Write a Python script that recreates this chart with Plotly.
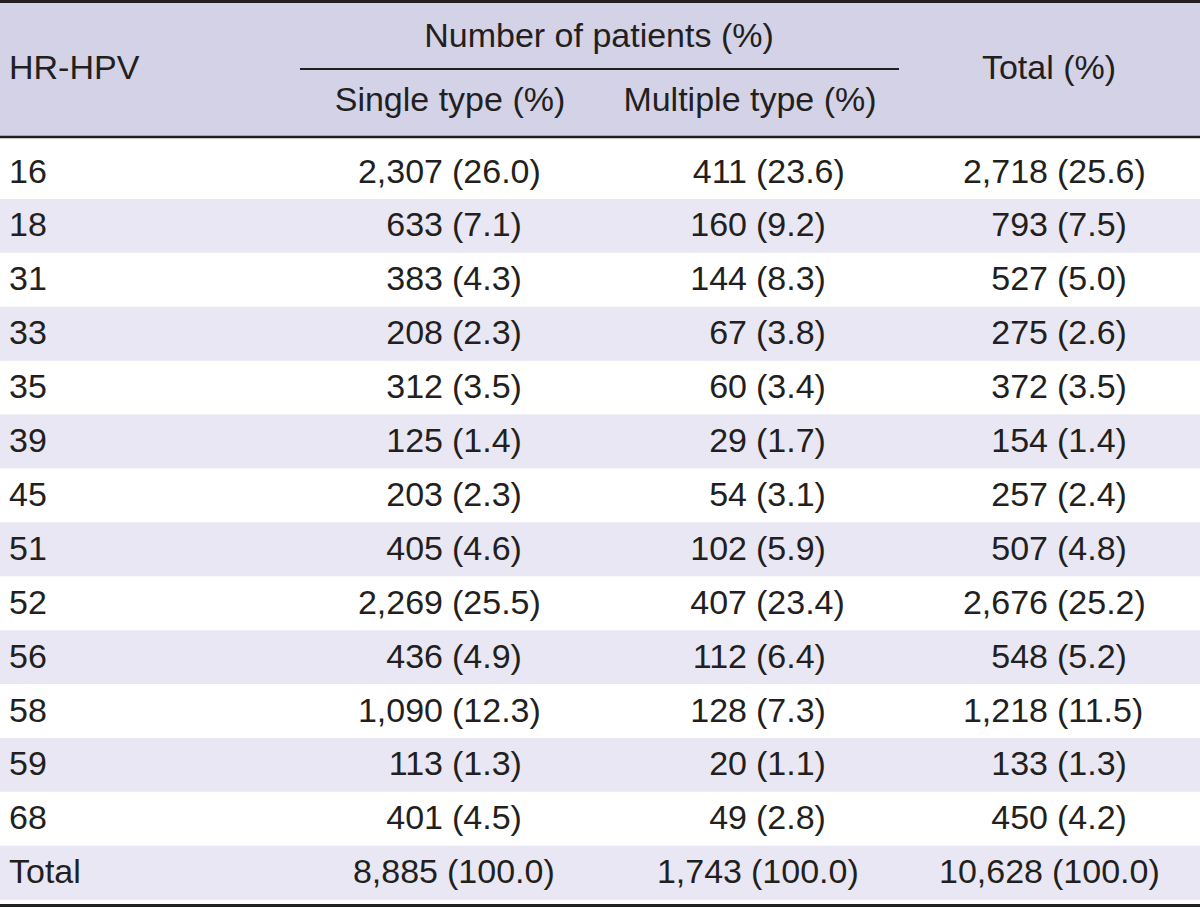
import plotly.graph_objects as go

# ---------------- data ----------------
hpv_types = ["16", "18", "31", "33", "35", "39", "45", "51", "52", "56", "58", "59", "68", "Total"]
single_n = [2307, 633, 383, 208, 312, 125, 203, 405, 2269, 436, 1090, 113, 401, 8885]
single_pct = [26.0, 7.1, 4.3, 2.3, 3.5, 1.4, 2.3, 4.6, 25.5, 4.9, 12.3, 1.3, 4.5, 100.0]
multiple_n = [411, 160, 144, 67, 60, 29, 54, 102, 407, 112, 128, 20, 49, 1743]
multiple_pct = [23.6, 9.2, 8.3, 3.8, 3.4, 1.7, 3.1, 5.9, 23.4, 6.4, 7.3, 1.1, 2.8, 100.0]
total_n = [2718, 793, 527, 275, 372, 154, 257, 507, 2676, 548, 1218, 133, 450, 10628]
total_pct = [25.6, 7.5, 5.0, 2.6, 3.5, 1.4, 2.4, 4.8, 25.2, 5.2, 11.5, 1.3, 4.2, 100.0]

first_col_header = "HR-HPV"
group_header = "Number of patients (%)"
sub_headers = ["Single type (%)", "Multiple type (%)"]
total_header = "Total (%)"

# ---------------- layout constants ----------------
W, H = 1200, 908
FONT = "Liberation Sans, Arial, sans-serif"
FS = 34
TXT = "#231f20"
HEAD_BG = "#d3d2e6"
STRIPE_BG = "#e8e7f3"

row0_y = 172
row_h = 53.9
text_dy = 2
row_y = [row0_y + i * row_h for i in range(len(hpv_types))]
text_y = [y + text_dy for y in row_y]

sep_x = {"single": 452, "multiple": 756, "total": 1057}
gap = 9

fig = go.Figure()

# backgrounds
shapes = []
shapes.append(dict(type="rect", x0=0, x1=W, y0=2, y1=137, fillcolor=HEAD_BG, line_width=0, layer="below"))
for i, y in enumerate(row_y):
    if i % 2 == 1:
        shapes.append(dict(type="rect", x0=0, x1=W, y0=y - row_h / 2, y1=min(y + row_h / 2, 904),
                           fillcolor=STRIPE_BG, line_width=0, layer="below"))
# rules
shapes.append(dict(type="line", x0=0, x1=W, y0=1.5, y1=1.5, line=dict(color="#231f20", width=3)))
shapes.append(dict(type="line", x0=0, x1=W, y0=137, y1=137, line=dict(color="#231f20", width=2.5)))
shapes.append(dict(type="line", x0=300, x1=899, y0=69, y1=69, line=dict(color="#231f20", width=2)))
shapes.append(dict(type="line", x0=0, x1=W, y0=905.5, y1=905.5, line=dict(color="#231f20", width=3)))

font = dict(family=FONT, size=FS, color=TXT)

# first column
fig.add_trace(go.Scatter(x=[9] * len(hpv_types), y=text_y, text=hpv_types, mode="text",
                         textposition="middle right", textfont=font, hoverinfo="skip"))

def add_col(ns, pcts, sx):
    xs_n = [sx - gap if i < len(ns) - 1 else sx - gap - 5 for i in range(len(ns))]
    xs_p = [sx if i < len(ns) - 1 else sx - 5 for i in range(len(ns))]
    fig.add_trace(go.Scatter(x=xs_n, y=text_y, text=[f"{n:,}" for n in ns], mode="text",
                             textposition="middle left", textfont=font, hoverinfo="skip"))
    fig.add_trace(go.Scatter(x=xs_p, y=text_y, text=[f"({p:.1f})" for p in pcts], mode="text",
                             textposition="middle right", textfont=font, hoverinfo="skip"))

add_col(single_n, single_pct, sep_x["single"])
add_col(multiple_n, multiple_pct, sep_x["multiple"])
add_col(total_n, total_pct, sep_x["total"])

# header texts
fig.add_trace(go.Scatter(x=[9], y=[70], text=[first_col_header], mode="text",
                         textposition="middle right", textfont=font, hoverinfo="skip"))
fig.add_trace(go.Scatter(x=[599, 450, 750, 1049], y=[38, 102, 102, 70],
                         text=[group_header] + sub_headers + [total_header], mode="text",
                         textposition="middle center", textfont=font, hoverinfo="skip"))

fig.update_layout(
    width=W, height=H, margin=dict(l=0, r=0, t=0, b=0),
    paper_bgcolor="white", plot_bgcolor="white", showlegend=False,
    shapes=shapes,
    xaxis=dict(range=[0, W], visible=False, fixedrange=True),
    yaxis=dict(range=[H, 0], visible=False, fixedrange=True),
)

fig.write_html("out.html", config={"displayModeBar": False},
               post_script="document.body.style.margin='0';document.body.style.overflow='hidden';")
